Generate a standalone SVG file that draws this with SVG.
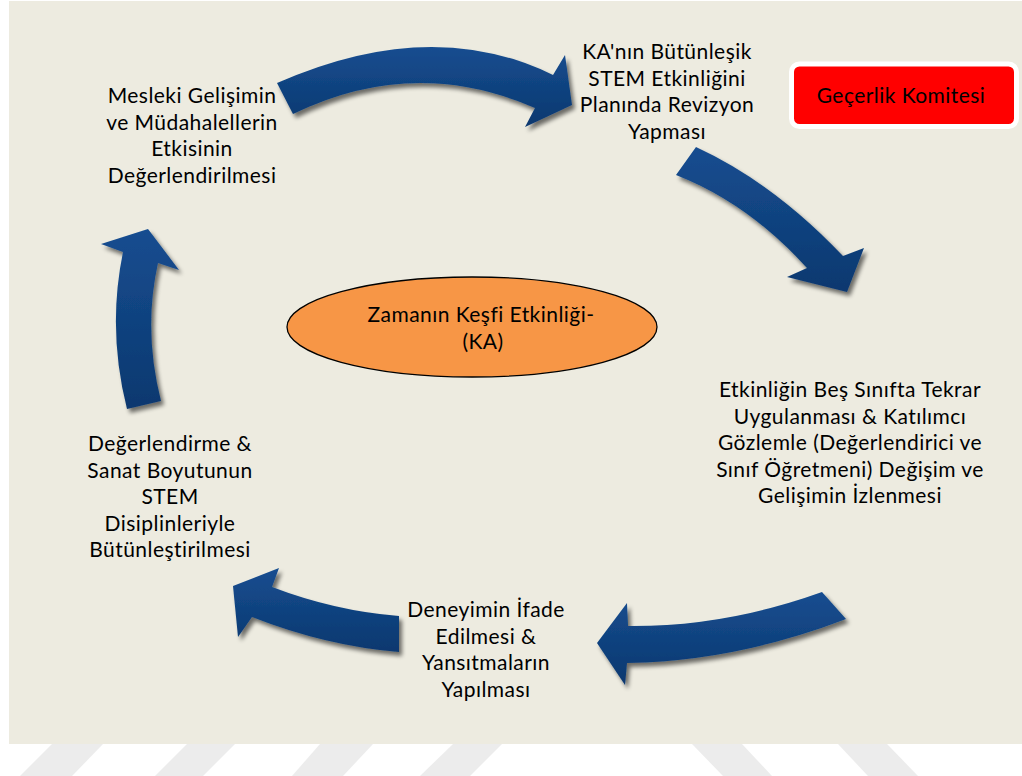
<svg xmlns="http://www.w3.org/2000/svg" width="1022" height="776" viewBox="0 0 1022 776">
  <style>
    .lbl { font-family: Lato, "Open Sans", "Liberation Sans", sans-serif; font-size: 21px; letter-spacing: 0.45px; fill: #000; text-anchor: middle; }
    .arrow { fill: url(#arrowFill); filter: url(#arrowShadow); }
    .stripe { fill: #ececec; }
  </style>
  <defs>
    <linearGradient id="arrowFill" x1="0" y1="0" x2="0" y2="1">
      <stop offset="0" stop-color="#164d90"/>
      <stop offset="1" stop-color="#0b386f"/>
    </linearGradient>
    <filter id="arrowShadow" x="-20%" y="-20%" width="140%" height="140%">
      <feGaussianBlur in="SourceAlpha" stdDeviation="2.2"/>
      <feOffset dx="3" dy="4" result="blur"/>
      <feComponentTransfer><feFuncA type="linear" slope="0.55"/></feComponentTransfer>
      <feMerge><feMergeNode/><feMergeNode in="SourceGraphic"/></feMerge>
    </filter>
  </defs>

  <!-- page background -->
  <rect x="0" y="0" width="1022" height="776" fill="#ffffff"/>
  <g id="stripes">
    <polygon class="stripe" points="52,744 103,744 72,776 20,776"/>
    <polygon class="stripe" points="187,744 235,744 203,776 155,776"/>
    <polygon class="stripe" points="320,744 373,744 343,776 292,776"/>
    <polygon class="stripe" points="453,744 502,744 470,776 420,776"/>
    <polygon class="stripe" points="692,744 742,744 772,776 723,776"/>
    <polygon class="stripe" points="838,744 887,744 918,776 868,776"/>
  </g>
  <rect id="panel" x="9" y="1" width="1013" height="743" fill="#edebe0"/>

  <!-- curved cycle arrows -->
  <g id="connectors">
    <path class="arrow" d="M277,83 Q431,15 553,75 L565,55 L572,105 L525,127 L535,108 Q414,55 293,114 Z"/>
    <path class="arrow" d="M696,147 Q774,183 843,256 L864,248 L847,292 L787,277 L807,268 Q748,203 676,175 Z"/>
    <path class="arrow" d="M822,592 Q725,627 628,626 L627,603 L597,643 L625,685 L627,663 Q737,661 846,619 Z"/>
    <path class="arrow" d="M399,616 Q335,611 272,587 L279,568 L233,586 L238,637 L252,617 Q326,646 399,652 Z"/>
    <path class="arrow" d="M127,409 Q107,330 123,252 L101,244 L148,229 L179,270 L158,263 Q143,330 161,401 Z"/>
  </g>

  <g id="node-center">
    <ellipse cx="472" cy="327" rx="185" ry="50" fill="#f79646" stroke="#000" stroke-width="1.3"/>
    <text class="lbl" x="481" y="322">Zamanın Keşfi Etkinliği-</text>
    <text class="lbl" x="483" y="349">(KA)</text>
  </g>

  <g id="node-committee">
    <rect x="791.5" y="64" width="225" height="62.5" rx="8" fill="#ff0000" stroke="#ffffff" stroke-width="5"/>
    <text class="lbl" x="901" y="103">Geçerlik Komitesi</text>
  </g>

  <g id="node-revision">
    <text class="lbl" x="667" y="59">KA'nın Bütünleşik</text>
    <text class="lbl" x="667" y="85.5">STEM Etkinliğini</text>
    <text class="lbl" x="667" y="112">Planında Revizyon</text>
    <text class="lbl" x="667" y="138.5">Yapması</text>
  </g>

  <g id="node-repeat">
    <text class="lbl" x="850" y="397">Etkinliğin Beş Sınıfta Tekrar</text>
    <text class="lbl" x="850" y="423.5">Uygulanması &amp; Katılımcı</text>
    <text class="lbl" x="850" y="450">Gözlemle (Değerlendirici ve</text>
    <text class="lbl" x="850" y="476.5">Sınıf Öğretmeni) Değişim ve</text>
    <text class="lbl" x="850" y="503">Gelişimin İzlenmesi</text>
  </g>

  <g id="node-expression">
    <text class="lbl" x="486" y="617">Deneyimin İfade</text>
    <text class="lbl" x="486" y="643.5">Edilmesi &amp;</text>
    <text class="lbl" x="486" y="670">Yansıtmaların</text>
    <text class="lbl" x="486" y="696.5">Yapılması</text>
  </g>

  <g id="node-art">
    <text class="lbl" x="170" y="451">Değerlendirme &amp;</text>
    <text class="lbl" x="170" y="477.5">Sanat Boyutunun</text>
    <text class="lbl" x="170" y="504">STEM</text>
    <text class="lbl" x="170" y="530.5">Disiplinleriyle</text>
    <text class="lbl" x="170" y="557">Bütünleştirilmesi</text>
  </g>

  <g id="node-evaluation">
    <text class="lbl" x="192" y="103">Mesleki Gelişimin</text>
    <text class="lbl" x="192" y="129.7">ve Müdahalellerin</text>
    <text class="lbl" x="192" y="156.4">Etkisinin</text>
    <text class="lbl" x="192" y="183">Değerlendirilmesi</text>
  </g>
</svg>
